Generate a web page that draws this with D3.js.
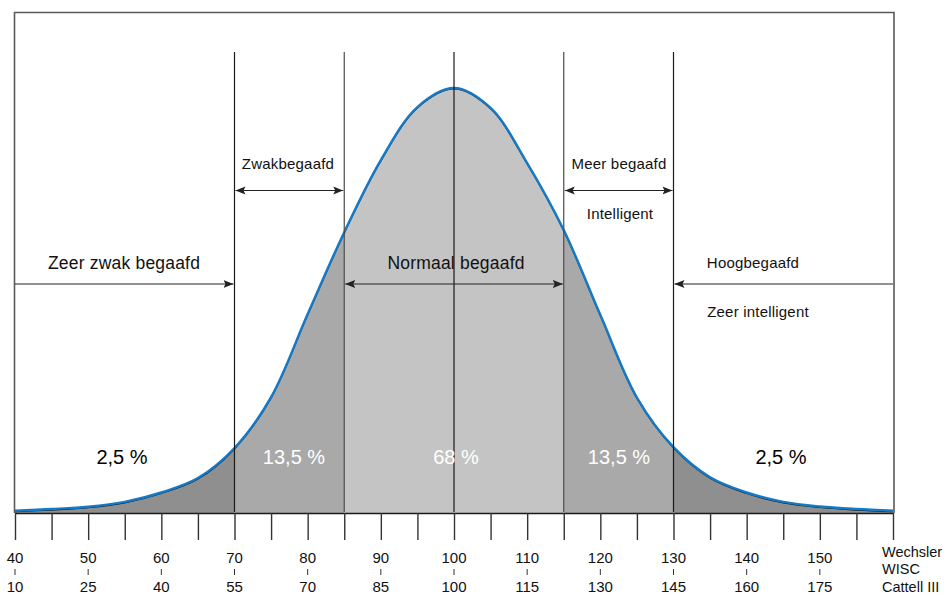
<!DOCTYPE html>
<html>
<head>
<meta charset="utf-8">
<script src="https://cdn.jsdelivr.net/npm/d3@7"></script>
<style>
body { margin: 0; background: #fff; }
text { font-family: "Liberation Sans", Arial, sans-serif; }
</style>
</head>
<body>
<svg id="chart"></svg>
<script>
const svg_width = 946;
const svg_height = 595;

// curve heights, in % of the peak
const iq = [40, 45, 50, 55, 60, 65, 70, 75, 80, 85, 90, 95, 100, 105, 110, 115, 120, 125, 130, 135, 140, 145, 150, 155, 160];
const density = [0.3, 0.7, 1.25, 2.4, 4.6, 8.0, 15.1, 27.1, 46.7, 66.0, 83.0, 95.5, 100, 95.3, 82.3, 66.5, 46.5, 27.0, 15.3, 8.2, 4.6, 2.4, 1.3, 0.7, 0.3];

const wechsler = [40, 50, 60, 70, 80, 90, 100, 110, 120, 130, 140, 150];
const cattell = [10, 25, 40, 55, 70, 85, 100, 115, 130, 145, 160, 175];
const bounds = [40, 70, 85, 115, 130, 160];
const shares = ['2,5 %', '13,5 %', '68 %', '13,5 %', '2,5 %'];
const shareColors = ['#000', '#fff', '#fff', '#fff', '#000'];
const fills = ['#8f8f8f', '#a9a9a9', '#c4c4c4', '#a9a9a9', '#8f8f8f'];
const scaleNames = ['Wechsler', 'WISC', 'Cattell III'];

const svg = d3.select('#chart')
	.attr('width', svg_width)
	.attr('height', svg_height);

const base = 512;
const x = d3.scaleLinear().domain([40, 160]).range([15, 893]);
const xc = d3.scaleLinear().domain([10, 190]).range([15, 893]);
const y = d3.scaleLinear().domain([0, 100]).range([base, 88]);

const pts = iq.map((d, i) => [d, density[i]]);

// clip paths, one per band
const defs = svg.append('defs');
bounds.slice(0, -1).forEach((b, i) => {
	defs.append('clipPath').attr('id', 'band' + i)
		.append('rect')
		.attr('x', x(b)).attr('y', 0)
		.attr('width', x(bounds[i + 1]) - x(b))
		.attr('height', base + 1);
});

// arrow heads
defs.append('marker').attr('id', 'arr')
	.attr('viewBox', '0 0 10 10').attr('refX', 10).attr('refY', 5)
	.attr('markerWidth', 10).attr('markerHeight', 10)
	.attr('markerUnits', 'userSpaceOnUse')
	.attr('orient', 'auto-start-reverse')
	.append('path').attr('d', 'M0,1 L10,5 L0,9 L2,5 Z').attr('fill', '#222');

const area = d3.area()
	.x(d => x(d[0]))
	.y0(base + 1)
	.y1(d => y(d[1]))
	.curve(d3.curveCatmullRom);

const line = d3.line()
	.x(d => x(d[0]))
	.y(d => y(d[1]))
	.curve(d3.curveCatmullRom);

fills.forEach((c, i) => {
	svg.append('path')
		.attr('d', area(pts))
		.attr('fill', c)
		.attr('clip-path', `url(#band${i})`);
});

// dark edge under the blue curve
svg.append('path')
	.attr('d', line(pts))
	.attr('transform', 'translate(0,1)')
	.attr('fill', 'none')
	.attr('stroke', '#1a1a1a')
	.attr('stroke-width', 1.2);

svg.append('path')
	.attr('d', line(pts))
	.attr('fill', 'none')
	.attr('stroke', '#1479c6')
	.attr('stroke-width', 2.4);

// band dividers
svg.selectAll('.divider').data([70, 85, 100, 115, 130]).enter()
	.append('line')
	.attr('class', 'divider')
	.attr('x1', d => x(d)).attr('x2', d => x(d))
	.attr('y1', 52).attr('y2', base)
	.attr('stroke', d => (d === 85 || d === 115) ? '#4a4a4a' : '#1a1a1a')
	.attr('stroke-width', 1.2);

// frame
svg.append('path')
	.attr('d', `M14.5,${base + 1} V12.5 H894 V${base + 1}`)
	.attr('fill', 'none')
	.attr('stroke', '#5a5a5a')
	.attr('stroke-width', 1.6);

// axis with long ticks
const axis = d3.axisBottom(x)
	.tickValues(d3.range(40, 161, 5))
	.tickSize(27)
	.tickSizeOuter(0)
	.tickFormat('');
const ga = svg.append('g').attr('transform', `translate(0,${base + 1})`).call(axis);
ga.select('.domain').attr('stroke', '#1a1a1a').attr('stroke-width', 1.6);
ga.selectAll('.tick line').attr('stroke', '#333').attr('stroke-width', 1.4);

svg.selectAll('.wlab').data(wechsler).enter()
	.append('text').attr('class', 'wlab')
	.attr('x', d => x(d)).attr('y', 563)
	.attr('text-anchor', 'middle')
	.attr('font-size', '15px')
	.attr('fill', '#111')
	.text(d => d);

svg.selectAll('.minor').data(wechsler).enter()
	.append('line').attr('class', 'minor')
	.attr('x1', d => x(d)).attr('x2', d => x(d))
	.attr('y1', 569).attr('y2', 575)
	.attr('stroke', '#333').attr('stroke-width', 1);

svg.selectAll('.clab').data(cattell).enter()
	.append('text').attr('class', 'clab')
	.attr('x', d => xc(d)).attr('y', 592)
	.attr('text-anchor', 'middle')
	.attr('font-size', '15px')
	.attr('fill', '#111')
	.text(d => d);

svg.selectAll('.sname').data(scaleNames).enter()
	.append('text').attr('class', 'sname')
	.attr('x', 882).attr('y', (d, i) => [557, 574, 592][i])
	.attr('font-size', '14.5px')
	.attr('fill', '#111')
	.text(d => d);

// share labels
svg.selectAll('.share').data(shares).enter()
	.append('text').attr('class', 'share')
	.attr('x', (d, i) => [122, 294, 456, 619, 781][i])
	.attr('y', 464)
	.attr('text-anchor', 'middle')
	.attr('font-size', '20px')
	.attr('fill', (d, i) => shareColors[i])
	.text(d => d);

// range arrows
function arrow(a, b, yy, both) {
	const l = svg.append('line')
		.attr('x1', a).attr('x2', b)
		.attr('y1', yy).attr('y2', yy)
		.attr('stroke', '#222').attr('stroke-width', 1.2)
		.attr('marker-end', 'url(#arr)');
	if (both) l.attr('marker-start', 'url(#arr)');
}
arrow(x(70) + 1, x(85) - 1, 190.5, true);
arrow(x(115) + 1, x(130) - 1, 190.5, true);
arrow(x(85) + 1, x(115) - 1, 284, true);
arrow(15, x(70) - 1, 284, false);
arrow(893, x(130) + 1, 284, false);

function label(t, cx, yy, size) {
	svg.append('text')
		.attr('x', cx).attr('y', yy)
		.attr('text-anchor', 'middle')
		.attr('font-size', size)
		.attr('letter-spacing', '0.2px')
		.attr('fill', '#111')
		.text(t);
}
label('Zwakbegaafd', 288, 169, '15px');
label('Meer begaafd', 619, 169, '15px');
label('Intelligent', 620, 219, '15px');
label('Zeer zwak begaafd', 124, 269, '17.5px');
label('Normaal begaafd', 456, 269, '17.5px');
label('Hoogbegaafd', 753, 268, '15px');
label('Zeer intelligent', 758, 317, '15px');
</script>
</body>
</html>
